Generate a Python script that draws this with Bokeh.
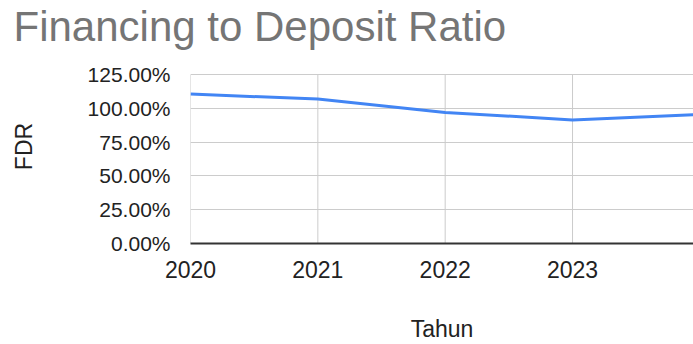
from bokeh.plotting import figure
from bokeh.models import FixedTicker, NumeralTickFormatter, Range1d
from bokeh.embed import file_html
from bokeh.resources import INLINE

years = [2020, 2021, 2022, 2023, 2024]
fdr = [1.106, 1.069, 0.970, 0.915, 0.955]
y_ticks = [0.0, 0.25, 0.5, 0.75, 1.0, 1.25]
title_text = "Financing to Deposit Ratio"

FONT = "Liberation Sans"

p = figure(width=693, height=344, output_backend="svg", toolbar_location=None,
           x_range=Range1d(2020, 2023.95), y_range=Range1d(0, 1.436),
           min_border_left=190, min_border_right=0, min_border_top=0, min_border_bottom=101)
p.outline_line_color = None
p.background_fill_color = "white"
p.border_fill_color = "white"

# vertical grid lines, drawn only up to the top tick
p.segment(x0=years, y0=[y_ticks[0]] * len(years), x1=years, y1=[y_ticks[-1]] * len(years),
          line_color="#cccccc", line_width=1)
p.xgrid.visible = False

p.line(years, fdr, line_color="#4285F4", line_width=3)

p.xaxis.ticker = FixedTicker(ticks=years)
p.yaxis.ticker = FixedTicker(ticks=y_ticks)
p.yaxis.formatter = NumeralTickFormatter(format="0.00%")
p.yaxis.bounds = (y_ticks[0], y_ticks[-1])

for ax in (p.xaxis[0], p.yaxis[0]):
    ax.major_tick_line_color = None
    ax.minor_tick_line_color = None
    ax.major_label_text_font = FONT
    ax.major_label_text_color = "#222222"
    ax.axis_label_text_font = FONT
    ax.axis_label_text_font_size = "23px"
    ax.axis_label_text_font_style = "normal"
    ax.axis_label_text_color = "#222222"

p.yaxis.major_label_text_font_size = "21px"
p.xaxis.major_label_text_font_size = "23px"

p.yaxis.axis_line_color = None
p.yaxis.major_label_standoff = 14
p.yaxis.axis_label = "FDR"
p.yaxis.axis_label_standoff = 48
p.yaxis.axis_label_text_align = "right"

p.xaxis.axis_line_color = "#333333"
p.xaxis.axis_line_width = 2
p.xaxis.major_label_standoff = 11
p.xaxis.axis_label = "Tahun"
p.xaxis.axis_label_standoff = 35

p.ygrid.grid_line_color = "#cccccc"
p.ygrid.ticker = FixedTicker(ticks=y_ticks)

p.title.text = title_text
p.title.text_font = FONT
p.title.text_font_size = "42px"
p.title.text_font_style = "normal"
p.title.text_color = "#757575"
p.title.align = "left"
p.title.offset = -177
p.title.standoff = 0

open("out.html", "w").write(file_html(p, INLINE))
